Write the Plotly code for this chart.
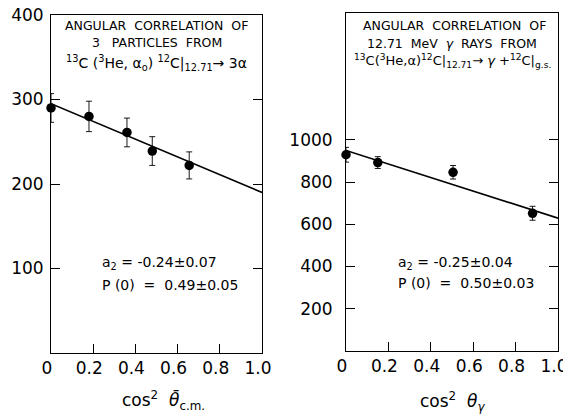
import plotly.graph_objects as go
from plotly.subplots import make_subplots

# Left panel: 3 alpha particles -------------------------------------------------
alpha_x = [0.0, 0.18, 0.36, 0.48, 0.655]
alpha_y = [290, 280, 261, 239, 222]
alpha_err = [17, 18, 17, 17, 16]
alpha_fit_x = [0.0, 1.0]
alpha_fit_y = [295, 190]

# Right panel: 12.71 MeV gamma rays ---------------------------------------------
gamma_x = [0.0, 0.15, 0.505, 0.88]
gamma_y = [929, 892, 846, 652]
gamma_err = [35, 28, 32, 33]
gamma_fit_x = [0.0, 1.0]
gamma_fit_y = [949, 629]

x_ticks = [0, 0.2, 0.4, 0.6, 0.8, 1.0]
x_labels = ["0", "0.2", "0.4", "0.6", "0.8", "1.0"]
left_yticks = [100, 200, 300, 400]
right_yticks = [200, 400, 600, 800, 1000]

FONT = "DejaVu Sans"
W, H = 571, 415
OFF = 8  # page body margin, the figure sits 8px in from the window corner


def px(x):
    return (x - OFF) / W


def py(y):
    return 1 - (y - OFF) / H


fig = make_subplots(rows=1, cols=2)

for col, (xs, ys, es, fx, fy) in enumerate(
        [(alpha_x, alpha_y, alpha_err, alpha_fit_x, alpha_fit_y),
         (gamma_x, gamma_y, gamma_err, gamma_fit_x, gamma_fit_y)], start=1):
    fig.add_trace(go.Scatter(x=fx, y=fy, mode="lines",
                             line=dict(color="black", width=1.6),
                             cliponaxis=True, showlegend=False), row=1, col=col)
    fig.add_trace(go.Scatter(x=xs, y=ys, mode="markers",
                             marker=dict(color="black", size=9.5),
                             error_y=dict(type="data", array=es, color="black",
                                          thickness=0.9, width=3),
                             cliponaxis=False, showlegend=False), row=1, col=col)

axis_common = dict(showgrid=False, zeroline=False, showline=True,
                   linecolor="black", linewidth=1, ticks="inside",
                   tickcolor="black", ticklen=9, tickwidth=1, automargin=False,
                   ticklabeloverflow="allow",
                   tickfont=dict(family=FONT, size=17, color="black"))

fig.update_layout(
    width=W, height=H,
    margin=dict(l=0, r=0, t=0, b=0),
    paper_bgcolor="white", plot_bgcolor="white",
    xaxis=dict(domain=[px(51), px(262)], range=[0, 1.0], mirror=True,
               tickvals=x_ticks, ticktext=x_labels, ticklabelshift=-4,
               **axis_common),
    yaxis=dict(domain=[py(353), py(15)], range=[0, 400], ticklabelstandoff=3,
               mirror="ticks", tickvals=left_yticks, **axis_common),
    xaxis2=dict(domain=[px(346), px(558)], range=[0, 1.0], mirror=True,
                tickvals=x_ticks, ticktext=x_labels, ticklabelshift=-4,
                **axis_common),
    yaxis2=dict(domain=[py(351), py(13)], range=[0, 1600], ticklabelstandoff=9,
                mirror="ticks", tickvals=right_yticks, **axis_common),
)


def note(text, x, y, xref, yref, size=12.5, xanchor="center"):
    fig.add_annotation(text=text, x=x, y=y, xref=xref, yref=yref,
                       showarrow=False, xanchor=xanchor, yanchor="middle",
                       font=dict(family=FONT, size=size, color="black"))


# left panel texts
note("ANGULAR  CORRELATION  OF", 0.5, 387, "x", "y")
note("3   PARTICLES  FROM", 0.5, 367, "x", "y")
note("<sup>13</sup>C (<sup>3</sup>He, α<sub>o</sub>) <sup>12</sup>C|<sub>12.71</sub>→ 3α",
     0.5, 343, "x", "y", size=14)
note("a<sub>2</sub> = -0.24±0.07", 0.232, 107, "x", "y", size=14, xanchor="left")
note("P (0)  =  0.49±0.05", 0.232, 80, "x", "y", size=14, xanchor="left")

# right panel texts
note("ANGULAR  CORRELATION  OF", 0.51, 1540, "x2", "y2")
note("12.71  MeV  <i>γ</i>  RAYS  FROM", 0.5, 1458, "x2", "y2")
note("<sup>13</sup>C(<sup>3</sup>He,α)<sup>12</sup>C|<sub>12.71</sub>→ <i>γ</i> +<sup>12</sup>C|<sub>g.s.</sub>",
     0.5, 1374, "x2", "y2", size=13)
note("a<sub>2</sub> = -0.25±0.04", 0.236, 418, "x2", "y2", size=14, xanchor="left")
note("P (0)  =  0.50±0.03", 0.236, 322, "x2", "y2", size=14, xanchor="left")

# axis titles
note("cos<sup>2</sup>  <i>θ̄</i><sub>c.m.</sub>", px(163), py(400), "paper", "paper", size=17)
note("cos<sup>2</sup>  <i>θ</i><sub><i>γ</i></sub>", px(452), py(401), "paper", "paper", size=17)

fig.write_html("out.html")
